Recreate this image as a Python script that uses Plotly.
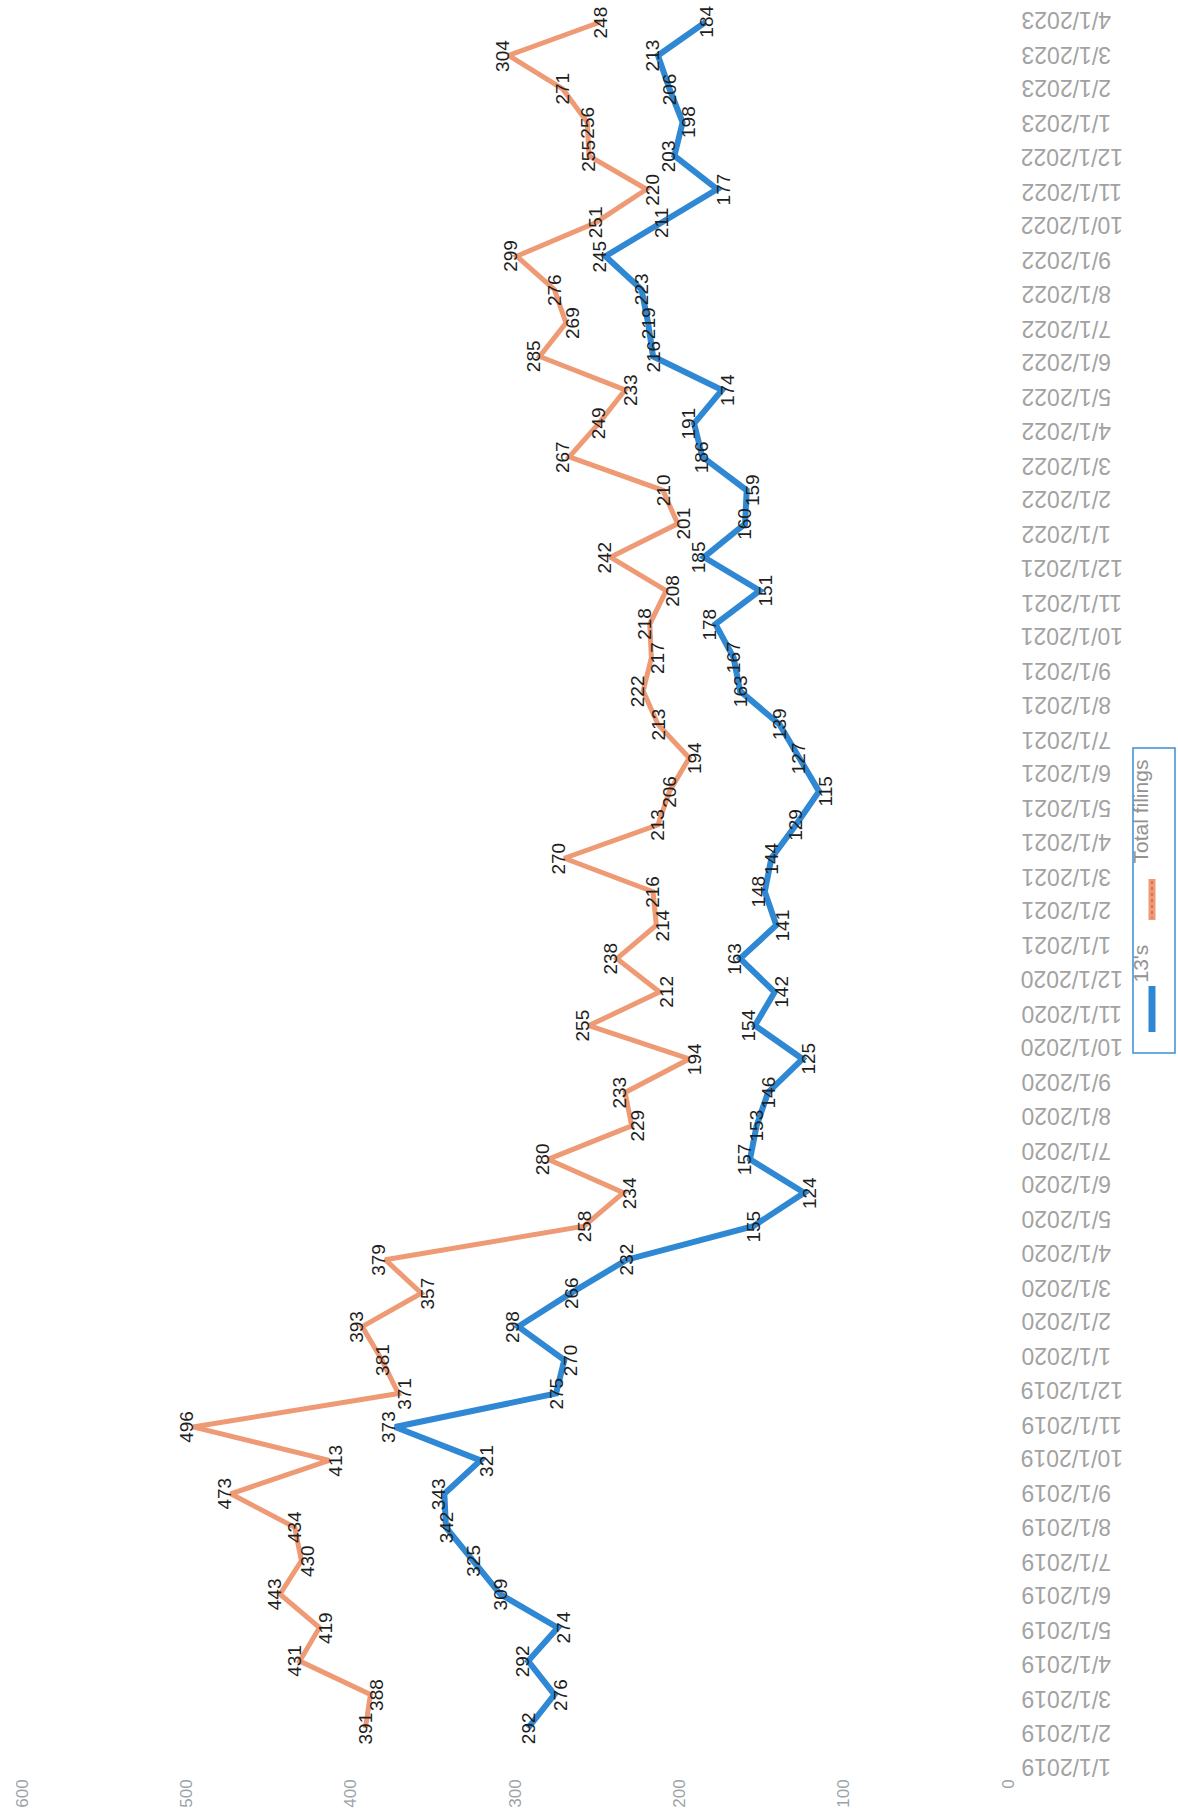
import pandas as pd
import plotly.graph_objects as go

# Monthly category labels, 1/1/2019 through 4/1/2023
months = pd.date_range("2019-01-01", "2023-04-01", freq="MS")
date_labels = [f"{d.month}/1/{d.year}" for d in months]

total_filings = [391, 388, 431, 419, 443, 430, 434, 473, 413, 496, 371, 381,
                 393, 357, 379, 258, 234, 280, 229, 233, 194, 255, 212, 238,
                 214, 216, 270, 213, 206, 194, 213, 222, 217, 218, 208, 242,
                 201, 210, 267, 249, 233, 285, 269, 276, 299, 251, 220, 255,
                 256, 271, 304, 248]
chapter13 = [292, 276, 292, 274, 309, 325, 342, 343, 321, 373, 275, 270,
             298, 266, 232, 155, 124, 157, 153, 146, 125, 154, 142, 163,
             141, 148, 144, 129, 115, 127, 139, 163, 167, 178, 151, 185,
             160, 159, 186, 191, 174, 216, 219, 223, 245, 211, 177, 203,
             198, 206, 213, 184]

series_names = ["13's", "Total filings"]
value_ticks = [0, 100, 200, 300, 400, 500, 600]

BLUE = "#2f88d3"
ORANGE = "#ee9a74"
GRAY = "#a2a2a2"
FONT = "Liberation Sans, Arial"

W, H = 1178, 1817
ML, MR, MT, MB = 0, 168, 0, 42
PW, PH = W - ML - MR, H - MT - MB


def px_x(px):
    return (px - ML) / PW


def px_y(py):
    return (H - MB - py) / PH


fig = go.Figure()
fig.add_trace(go.Scatter(x=total_filings, y=date_labels, mode="lines",
                         name=series_names[1],
                         line=dict(color=ORANGE, width=5)))
fig.add_trace(go.Scatter(x=chapter13, y=date_labels, mode="lines",
                         name=series_names[0],
                         line=dict(color=BLUE, width=6)))


def label_shift(vals, i):
    # nudge labels outward at turning points
    if i == 0 or i == len(vals) - 1:
        return 0
    if vals[i] > vals[i - 1] and vals[i] > vals[i + 1]:
        return -6
    if vals[i] < vals[i - 1] and vals[i] < vals[i + 1]:
        return 6
    return 0


annotations = []
for vals in (total_filings, chapter13):
    for i, v in enumerate(vals):
        annotations.append(dict(
            x=v, y=date_labels[i], xref="x", yref="y", text=str(v),
            showarrow=False, textangle=-90, xshift=label_shift(vals, i),
            font=dict(family=FONT, size=19, color="#1e1e1e"),
            xanchor="center", yanchor="middle"))

# category labels, upside down, left edges lined up beside the plot
for i, lab in enumerate(date_labels):
    annotations.append(dict(
        x=px_x(1019), y=i, xref="paper", yref="y2", text=lab,
        showarrow=False, textangle=180, xanchor="left", yanchor="middle",
        font=dict(family=FONT, size=23, color=GRAY)))

# legend drawn vertically on the right
legend_font = dict(family=FONT, size=21, color="#929292")
annotations.append(dict(x=px_x(1153), y=px_y(964), xref="paper", yref="paper",
                        text=series_names[0], showarrow=False, textangle=-90,
                        font=legend_font))
annotations.append(dict(x=px_x(1153), y=px_y(812), xref="paper", yref="paper",
                        text=series_names[1], showarrow=False, textangle=-90,
                        font=legend_font))

shapes = [
    dict(type="rect", xref="paper", yref="paper",
         x0=px_x(1133), x1=px_x(1175), y0=px_y(748), y1=px_y(1053),
         line=dict(color="#3a8fd6", width=1.5)),
    dict(type="line", xref="paper", yref="paper",
         x0=px_x(1152), x1=px_x(1152), y0=px_y(986), y1=px_y(1032),
         line=dict(color=BLUE, width=7)),
    dict(type="line", xref="paper", yref="paper",
         x0=px_x(1152), x1=px_x(1152), y0=px_y(879), y1=px_y(920),
         line=dict(color=ORANGE, width=7)),
    dict(type="line", xref="paper", yref="paper",
         x0=px_x(1152), x1=px_x(1152), y0=px_y(881), y1=px_y(918),
         line=dict(color="#e07050", width=2, dash="dot")),
]

# row geometry for the plotted lines
spacing = (1728 - 22) / 51
y_hi = 51 + 22 / spacing
y_lo = -(H - MB - 1728) / spacing
# row geometry for the category labels
spacing2 = (1767 - 20) / 51
y2_hi = 51 + 20 / spacing2
y2_lo = -(H - MB - 1767) / spacing2

# value scale: 600 near the left edge, 0 near the right edge of the plot
x_scale = (1008 - 22) / 600
x_left = 600 + 22 / x_scale
x_right = x_left - PW / x_scale

fig.update_layout(
    width=W, height=H,
    margin=dict(l=ML, r=MR, t=MT, b=MB),
    paper_bgcolor="white", plot_bgcolor="white",
    showlegend=False,
    annotations=annotations,
    shapes=shapes,
    xaxis=dict(range=[x_left, x_right], tickvals=value_ticks,
               ticktext=[str(t) for t in value_ticks],
               tickangle=-90, showgrid=False, zeroline=False, showline=False,
               ticks="", ticklabelstandoff=0,
               tickfont=dict(family=FONT, size=17, color="#9aa3a8")),
    yaxis=dict(type="category", range=[y_lo, y_hi], showticklabels=False,
               showgrid=False, zeroline=False, showline=False, ticks=""),
    yaxis2=dict(overlaying="y", range=[y2_lo, y2_hi], visible=False,
                side="right"),
)

fig.write_html("out.html")
